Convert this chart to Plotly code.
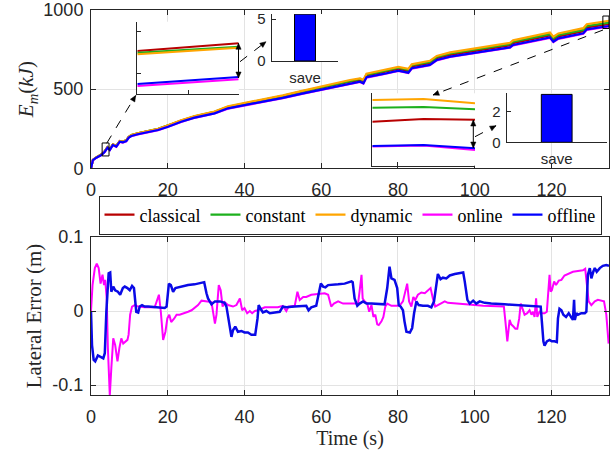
import plotly.graph_objects as go

# ---------------- data ----------------
series_names = ["classical", "constant", "dynamic", "online", "offline"]

t_energy = [0, 0.5, 1.4, 2.7, 3.6, 4.3, 4.9, 5.7, 6.6, 7.5, 8.3, 9.2, 9.8, 10.5, 12.2, 14.9,
            17.5, 20.1, 23.5, 27.0, 32.2, 35.7, 39.2, 44.4, 50, 55, 60, 65, 67.5, 70.1, 71,
            71.8, 76.2, 80.1, 82.7, 83.6, 88.3, 90.1, 93.6, 102.2, 109.2, 110, 119.6, 120.5,
            121.8, 128.3, 129.2, 135]
E_classical = [0, 53, 69, 87, 109, 134, 120, 151, 141, 173, 169, 177, 198, 209, 221, 233, 248,
               270, 301, 327, 355, 387, 403, 426, 454, 481, 508, 535, 547, 557, 547, 585, 606,
               628, 615, 643, 664, 695, 716, 748, 776, 791, 839, 812, 833, 865, 890, 911]
E_constant = [0, 53, 69, 87, 108, 133, 120, 151, 141, 172, 169, 177, 198, 210, 221, 233, 249,
              271, 302, 329, 357, 389, 406, 429, 458, 486, 513, 541, 553, 564, 554, 592, 614,
              635, 622, 651, 672, 703, 725, 757, 785, 800, 848, 821, 842, 874, 899, 920]
E_dynamic = [0, 53, 69, 87, 108, 133, 119, 151, 141, 172, 169, 177, 198, 210, 221, 234, 250,
             271, 303, 330, 358, 391, 408, 431, 461, 489, 517, 545, 558, 568, 559, 597, 619,
             641, 628, 657, 679, 710, 732, 765, 793, 808, 858, 831, 852, 885, 910, 932]
E_online = [0, 52, 66, 83, 104, 129, 115, 146, 136, 167, 163, 171, 192, 203, 214, 226, 241,
            262, 293, 319, 346, 377, 393, 415, 443, 470, 496, 523, 535, 545, 535, 573, 594,
            615, 602, 630, 651, 682, 703, 735, 762, 777, 824, 797, 818, 850, 875, 896]
E_offline = [0, 52, 67, 84, 105, 130, 116, 147, 137, 168, 164, 172, 193, 204, 215, 227, 242,
             263, 294, 320, 347, 379, 395, 417, 445, 472, 498, 525, 537, 547, 537, 575, 596,
             617, 604, 632, 653, 684, 705, 737, 764, 779, 827, 800, 821, 853, 878, 899]

t_offline = [0, 0.26, 0.7, 1.1, 1.8, 2.5, 3.2, 3.6, 4.0, 4.6, 5.0, 5.3, 5.8, 6.3, 7.0, 7.6, 8.3,
             8.8, 9.5, 10.1, 10.7, 11.2, 11.8, 12.3, 12.7, 13.3, 14.0, 14.9, 16.6, 19.2, 19.7,
             20.3, 20.8, 21.4, 22.0, 22.7, 23.6, 24.4, 25.3, 27.0, 29.5, 30.1, 30.5, 31.4, 32.3,
             33.6, 34.8, 35.3, 35.9, 36.6, 37.0, 37.6, 38.3, 39.2, 40.0, 40.9, 41.8, 42.8, 43.4,
             43.7, 44.2, 44.8, 45.7, 46.6, 47.9, 49.2, 50.0, 50.9, 53.1, 56.1, 56.7, 57.4, 58.7,
             59.3, 59.9, 60.5, 61.1, 61.8, 63.1, 64.4, 66.1, 67.9, 68.2, 68.7, 69.4, 70.0, 70.9,
             71.8, 73.1, 74.8, 76.5, 77.2, 77.8, 78.3, 79.1, 79.8, 80.2, 80.7, 81.3, 81.7, 82.2,
             83.1, 83.7, 84.2, 84.8, 85.4, 86.5, 87.8, 88.7, 89.4, 90.0, 90.4, 91.1, 91.7, 92.6,
             93.5, 94.8, 96.1, 97.0, 97.4, 98.1, 98.7, 99.6, 100.4, 101.3, 102.6, 104.3, 107.8,
             111.3, 114.8, 117.2, 117.5, 117.9, 118.2, 118.8, 119.5, 120.1, 120.8, 121.4, 121.7,
             122.1, 122.6, 123.1, 123.8, 124.5, 125.2, 125.6, 125.9, 126.1, 126.5, 126.9, 127.8,
             128.7, 129.1, 129.5, 130.0, 130.4, 130.9, 131.3, 131.8, 132.6, 133.4, 134.3, 135.0]
err_offline = [0, -0.046, -0.066, -0.068, -0.060, -0.062, -0.064, -0.057, -0.001, 0.051, 0.052,
               0.026, 0.033, 0.028, 0.026, 0.022, 0.031, 0.033, 0.031, 0.028, 0.034, 0.031,
               -0.001, -0.002, 0.006, 0.008, 0.006, 0.006, 0.005, 0.004, 0.006, 0.037, 0.035,
               0.026, 0.031, 0.032, 0.033, 0.034, 0.035, 0.036, 0.039, 0.024, 0.017, 0.009,
               0.013, 0.013, 0.011, 0.006, -0.014, -0.035, -0.026, -0.021, -0.028, -0.027,
               -0.029, -0.029, -0.032, -0.032, -0.010, 0.008, 0.003, -0.002, 0.000, -0.003,
               -0.002, -0.001, 0.006, 0.005, 0.006, 0.007, 0.001, 0.005, 0.007, 0.022, 0.037,
               0.033, 0.032, 0.035, 0.035, 0.036, 0.037, 0.040, 0.039, 0.017, 0.007, 0.010,
               0.013, 0.010, 0.010, 0.009, 0.009, 0.031, 0.060, 0.044, 0.042, 0.031, 0.008,
               0.006, 0.001, -0.014, -0.028, -0.029, -0.023, -0.003, 0.013, 0.008, 0.007, 0.007,
               0.005, 0.013, 0.040, 0.050, 0.043, 0.045, 0.044, 0.048, 0.050, 0.051, 0.052,
               0.040, 0.015, 0.010, 0.014, 0.010, 0.013, 0.011, 0.010, 0.009, 0.008, 0.007,
               0.006, -0.014, -0.041, -0.047, -0.041, -0.039, -0.041, -0.041, -0.042, -0.010,
               0.003, 0.001, -0.005, -0.008, -0.003, -0.009, -0.012, 0.015, -0.012, -0.003,
               -0.005, -0.003, -0.003, -0.001, 0.049, 0.058, 0.044, 0.053, 0.058, 0.053, 0.058,
               0.061, 0.062, 0.061]

t_online = [0, 0.4, 1.0, 1.5, 2.0, 2.5, 3.0, 3.4, 3.7, 4.1, 4.4, 4.9, 5.3, 5.8, 6.3, 6.9, 7.4,
            7.9, 8.4, 9.0, 9.5, 9.8, 10.2, 10.7, 11.4, 12.3, 14.0, 16.6, 17.2, 17.7, 18.2, 18.8,
            19.4, 19.9, 20.4, 20.9, 21.7, 22.3, 23.1, 24.4, 25.3, 26.2, 27.0, 27.9, 28.8, 29.7,
            30.5, 31.4, 32.3, 32.7, 33.3, 33.8, 34.3, 34.8, 35.7, 37.0, 37.9, 38.5, 38.8, 39.4,
            40.0, 40.7, 41.4, 42.0, 42.7, 43.5, 44.4, 45.3, 47.0, 48.7, 50.0, 50.9, 51.5, 53.1,
            53.8, 54.4, 55.3, 56.1, 57.4, 59.2, 60.9, 61.8, 62.6, 63.3, 64.4, 65.7, 68.3, 69.6,
            70.1, 70.5, 70.8, 71.3, 72.0, 72.5, 73.1, 73.6, 74.1, 74.6, 75.0, 75.7, 76.2, 76.7,
            77.2, 78.3, 79.6, 80.4, 81.3, 81.9, 82.4, 82.9, 83.5, 84.0, 84.5, 85.2, 86.1, 87.0,
            87.8, 88.5, 89.1, 89.7, 90.4, 91.3, 92.2, 93.0, 94.8, 97.4, 100.0, 102.2, 104.3,
            107.6, 108.0, 108.5, 109.1, 109.5, 110.1, 110.6, 111.1, 111.6, 112.0, 112.5, 113.0,
            113.7, 114.3, 114.8, 115.2, 115.6, 116.0, 116.3, 116.9, 117.5, 118.2, 118.8, 119.1,
            119.5, 119.8, 120.1, 120.7, 121.2, 121.9, 122.6, 123.4, 124.3, 125.6, 126.9, 128.2,
            128.8, 129.2, 129.7, 130.4, 131.3, 132.1, 133.2, 133.7, 134.3, 134.9]
err_online = [0, 0.035, 0.058, 0.064, 0.058, 0.037, 0.049, 0.035, 0.042, 0.017, -0.050, -0.114,
              -0.077, -0.037, -0.046, -0.068, -0.050, -0.037, -0.044, -0.041, -0.039, -0.032,
              -0.005, 0.006, 0.008, 0.006, 0.005, 0.005, 0.013, 0.022, -0.001, -0.039, -0.028,
              -0.010, -0.005, -0.015, -0.010, -0.005, -0.005, -0.002, -0.001, 0.001, 0.004,
              0.008, 0.014, 0.013, 0.013, 0.012, -0.017, -0.005, 0.035, 0.028, 0.006, 0.012,
              0.008, 0.006, 0.008, 0.015, 0.017, 0.001, 0.004, -0.003, 0.000, -0.003, 0.000,
              0.001, 0.003, 0.005, 0.005, 0.005, 0.007, 0.000, 0.006, 0.007, 0.026, 0.015,
              0.019, 0.019, 0.022, 0.023, 0.024, 0.022, 0.006, 0.010, 0.013, 0.010, 0.010,
              0.010, 0.031, 0.049, 0.017, 0.013, 0.010, -0.001, 0.008, -0.008, -0.005, -0.018,
              -0.019, -0.014, -0.008, 0.006, 0.010, 0.007, 0.007, 0.007, 0.013, 0.028, 0.037,
              0.013, 0.006, 0.019, 0.015, 0.022, 0.025, 0.024, 0.028, 0.031, 0.017, 0.006,
              0.008, 0.010, 0.013, 0.011, 0.010, 0.009, 0.008, 0.007, 0.007, 0.006, -0.014,
              -0.041, -0.012, -0.018, -0.021, -0.024, -0.024, -0.010, 0.010, 0.001, -0.005,
              -0.003, 0.001, -0.005, -0.001, -0.008, 0.017, -0.008, -0.001, -0.003, -0.003,
              -0.001, 0.024, 0.049, 0.026, 0.028, 0.040, 0.035, 0.041, 0.042, 0.048, 0.050,
              0.053, 0.054, 0.055, 0.057, 0.035, 0.013, 0.008, 0.013, 0.015, 0.014, 0.013,
              -0.005, -0.044]

# zoomed insets of the energy curves
inset1_t = [3.5, 3.6, 3.7]
inset1_E = {
    "classical": [122.68, 123.15, 123.6],
    "constant": [122.48, 122.85, 123.2],
    "dynamic": [122.28, 122.7, 123.08],
    "online": [118.47, 118.88, 119.28],
    "offline": [118.71, 119.13, 119.56],
}
inset2_t = [133.5, 134.5, 135.5]
inset2_E = {
    "classical": [922.3, 924.0, 923.6],
    "constant": [931.0, 931.5, 930.1],
    "dynamic": [935.8, 936.5, 933.8],
    "online": [906.9, 907.6, 904.8],
    "offline": [907.2, 907.9, 905.8],
}
save_cat = ["save"]
save_start = [5.6]
save_end = [3.13]

x_ticks = [0, 20, 40, 60, 80, 100, 120]
E_ticks = [0, 500, 1000]
err_ticks = [-0.1, 0, 0.1]
err_ticklabels = ["-0.1", "0", "0.1"]

# ---------------- style ----------------
colors = {"classical": "#B80000", "constant": "#1DB01D", "dynamic": "#FFA500",
          "online": "#FF00FF", "offline": "#0000FF"}
AX = "#262626"
GRID = "#E3E3E3"
SANS = "Liberation Sans"
SERIF = "Liberation Serif"

W, H = 615, 450
L, R, T, B = 91, 6, 10, 55
PW, PH = W - L - R, H - T - B


def px(x):
    return (x - L) / PW


def py(y):
    return (H - B - y) / PH


fig = go.Figure()

energy = {"classical": E_classical, "constant": E_constant, "dynamic": E_dynamic,
          "online": E_online, "offline": E_offline}
for name in series_names:
    fig.add_trace(go.Scatter(x=t_energy, y=energy[name], mode="lines", name=name,
                             line=dict(color=colors[name], width=2.2), xaxis="x", yaxis="y"))

fig.add_trace(go.Scatter(x=t_online, y=err_online, mode="lines", showlegend=False,
                         line=dict(color=colors["online"], width=2), xaxis="x2", yaxis="y2"))
fig.add_trace(go.Scatter(x=t_offline, y=err_offline, mode="lines", showlegend=False,
                         line=dict(color="#0A0AE6", width=2.5), xaxis="x2", yaxis="y2"))

for name in series_names:
    fig.add_trace(go.Scatter(x=inset1_t, y=inset1_E[name], mode="lines", showlegend=False,
                             line=dict(color=colors[name], width=2), xaxis="x3", yaxis="y3"))
fig.add_trace(go.Bar(x=save_cat, y=save_start, width=0.8, showlegend=False,
                     marker=dict(color="#0000FF", line=dict(color="black", width=1)),
                     xaxis="x4", yaxis="y4"))
for name in series_names:
    fig.add_trace(go.Scatter(x=inset2_t, y=inset2_E[name], mode="lines", showlegend=False,
                             line=dict(color=colors[name], width=2), xaxis="x5", yaxis="y5"))
fig.add_trace(go.Bar(x=save_cat, y=save_end, width=0.8, showlegend=False,
                     marker=dict(color="#0000FF", line=dict(color="black", width=1)),
                     xaxis="x6", yaxis="y6"))

tickfont = dict(family=SANS, size=18, color=AX)
main_ax = dict(showline=True, linecolor=AX, linewidth=1, mirror="ticks", ticks="inside",
               ticklen=5, tickcolor=AX, showgrid=True, gridcolor=GRID, gridwidth=1,
               zeroline=False, tickfont=tickfont, automargin=False)
main_x = dict(main_ax, ticklabelstandoff=5)
main_y = dict(main_ax, ticklabelstandoff=3)
inset_ax = dict(showline=True, linecolor=AX, linewidth=1, mirror=False, ticks="inside",
                ticklen=4, tickcolor=AX, showgrid=False, zeroline=False, automargin=False,
                tickfont=dict(family=SANS, size=15, color=AX))

fig.update_layout(
    width=W, height=H, margin=dict(l=L, r=R, t=T, b=B),
    paper_bgcolor="white", plot_bgcolor="white",
    xaxis=dict(main_x, domain=[0, 1], range=[0, 135], tickvals=x_ticks, anchor="y"),
    yaxis=dict(main_y, domain=[py(168.3), 1], range=[0, 1000], tickvals=E_ticks, anchor="x",
               title=dict(text="<i>E</i><sub><i>m</i></sub>(<i>kJ</i>)", standoff=3,
                          font=dict(family=SERIF, size=21, color=AX))),
    xaxis2=dict(main_x, domain=[0, 1], range=[0, 135], tickvals=x_ticks, anchor="y2",
                title=dict(text="Time (s)", standoff=5,
                           font=dict(family=SERIF, size=20, color=AX))),
    yaxis2=dict(main_y, domain=[0, py(237)], range=[-0.1135, 0.1], tickvals=err_ticks,
                ticktext=err_ticklabels, anchor="x2",
                title=dict(text="Lateral Error (m)", standoff=5,
                           font=dict(family=SERIF, size=21, color=AX))),
    xaxis3=dict(inset_ax, domain=[px(137.3), px(238.7)], range=[3.5, 3.7], tickvals=[3.6],
                showticklabels=False, anchor="y3"),
    yaxis3=dict(inset_ax, domain=[py(94.3), py(21.7)], range=[117.48, 126.2],
                tickvals=[120, 125], showticklabels=False, anchor="x3"),
    xaxis4=dict(inset_ax, domain=[px(271.7), px(338.3)], range=[-1.27, 1.27], ticks="",
                anchor="y4", type="category", ticklabelstandoff=3),
    yaxis4=dict(inset_ax, domain=[py(61), py(14)], range=[0, 5.62], tickvals=[0, 5],
                anchor="x4", ticklabelstandoff=2),
    xaxis5=dict(inset_ax, domain=[px(372.3), px(475)], range=[133.5, 135.5], tickvals=[134],
                showticklabels=False, anchor="y5"),
    yaxis5=dict(inset_ax, domain=[py(165.7), py(93.3)], range=[895, 940], ticks="",
                showticklabels=False, anchor="x5"),
    xaxis6=dict(inset_ax, domain=[px(506.7), px(606.7)], range=[-1.3, 1.3], ticks="",
                anchor="y6", type="category", ticklabelstandoff=3),
    yaxis6=dict(inset_ax, domain=[py(142.3), py(93.3)], range=[0, 3.2], tickvals=[0, 2],
                anchor="x6", ticklabelstandoff=2),
    legend=dict(orientation="h", x=0.5, xanchor="center", y=py(215), yanchor="middle",
                bgcolor="white", bordercolor=AX, borderwidth=1,
                font=dict(family=SERIF, size=18, color="black"), itemwidth=30,
                tracegroupgap=0),
    showlegend=True,
)

# zoom boxes on the main energy axes
fig.add_shape(type="rect", xref="x", yref="y", x0=2.9, x1=4.7, y0=78, y1=160,
              line=dict(color="black", width=1))
fig.add_shape(type="rect", xref="x", yref="y", x0=133.4, x1=135, y0=883, y1=962,
              line=dict(color="black", width=1))


def head(tip, tail, length=6.0, half=2.6):
    """Filled triangular arrow head at `tip` pointing away from `tail` (pixel coords)."""
    dx, dy = tip[0] - tail[0], tip[1] - tail[1]
    n = (dx * dx + dy * dy) ** 0.5
    ux, uy = dx / n, dy / n
    bx, by = tip[0] - ux * length, tip[1] - uy * length
    p1 = (bx - uy * half, by + ux * half)
    p2 = (bx + uy * half, by - ux * half)
    path = "M {:.5f},{:.5f} L {:.5f},{:.5f} L {:.5f},{:.5f} Z".format(
        px(tip[0]), py(tip[1]), px(p1[0]), py(p1[1]), px(p2[0]), py(p2[1]))
    fig.add_shape(type="path", xref="paper", yref="paper", path=path,
                  fillcolor="black", line=dict(color="black", width=0.5))


def dashed_arrow(p0, p1):
    fig.add_shape(type="line", xref="paper", yref="paper", x0=px(p0[0]), y0=py(p0[1]),
                  x1=px(p1[0]), y1=py(p1[1]), line=dict(color="black", width=1, dash="dash"))
    head(p1, p0)


def double_arrow(x, y_top, y_bot):
    fig.add_shape(type="line", xref="paper", yref="paper", x0=px(x), y0=py(y_top),
                  x1=px(x), y1=py(y_bot), line=dict(color="black", width=1))
    head((x, y_top), (x, y_bot))
    head((x, y_bot), (x, y_top))


dashed_arrow((106.7, 143.3), (135.7, 95.5))
dashed_arrow((240, 61.7), (266, 41.7))
dashed_arrow((603, 30), (433, 95))
dashed_arrow((475, 136.7), (496, 125.7))
double_arrow(238.5, 43.3, 78)
double_arrow(473.3, 120, 148)

fig.write_html("out.html", config={"displayModeBar": False},
               post_script="document.body.style.margin='0';")
